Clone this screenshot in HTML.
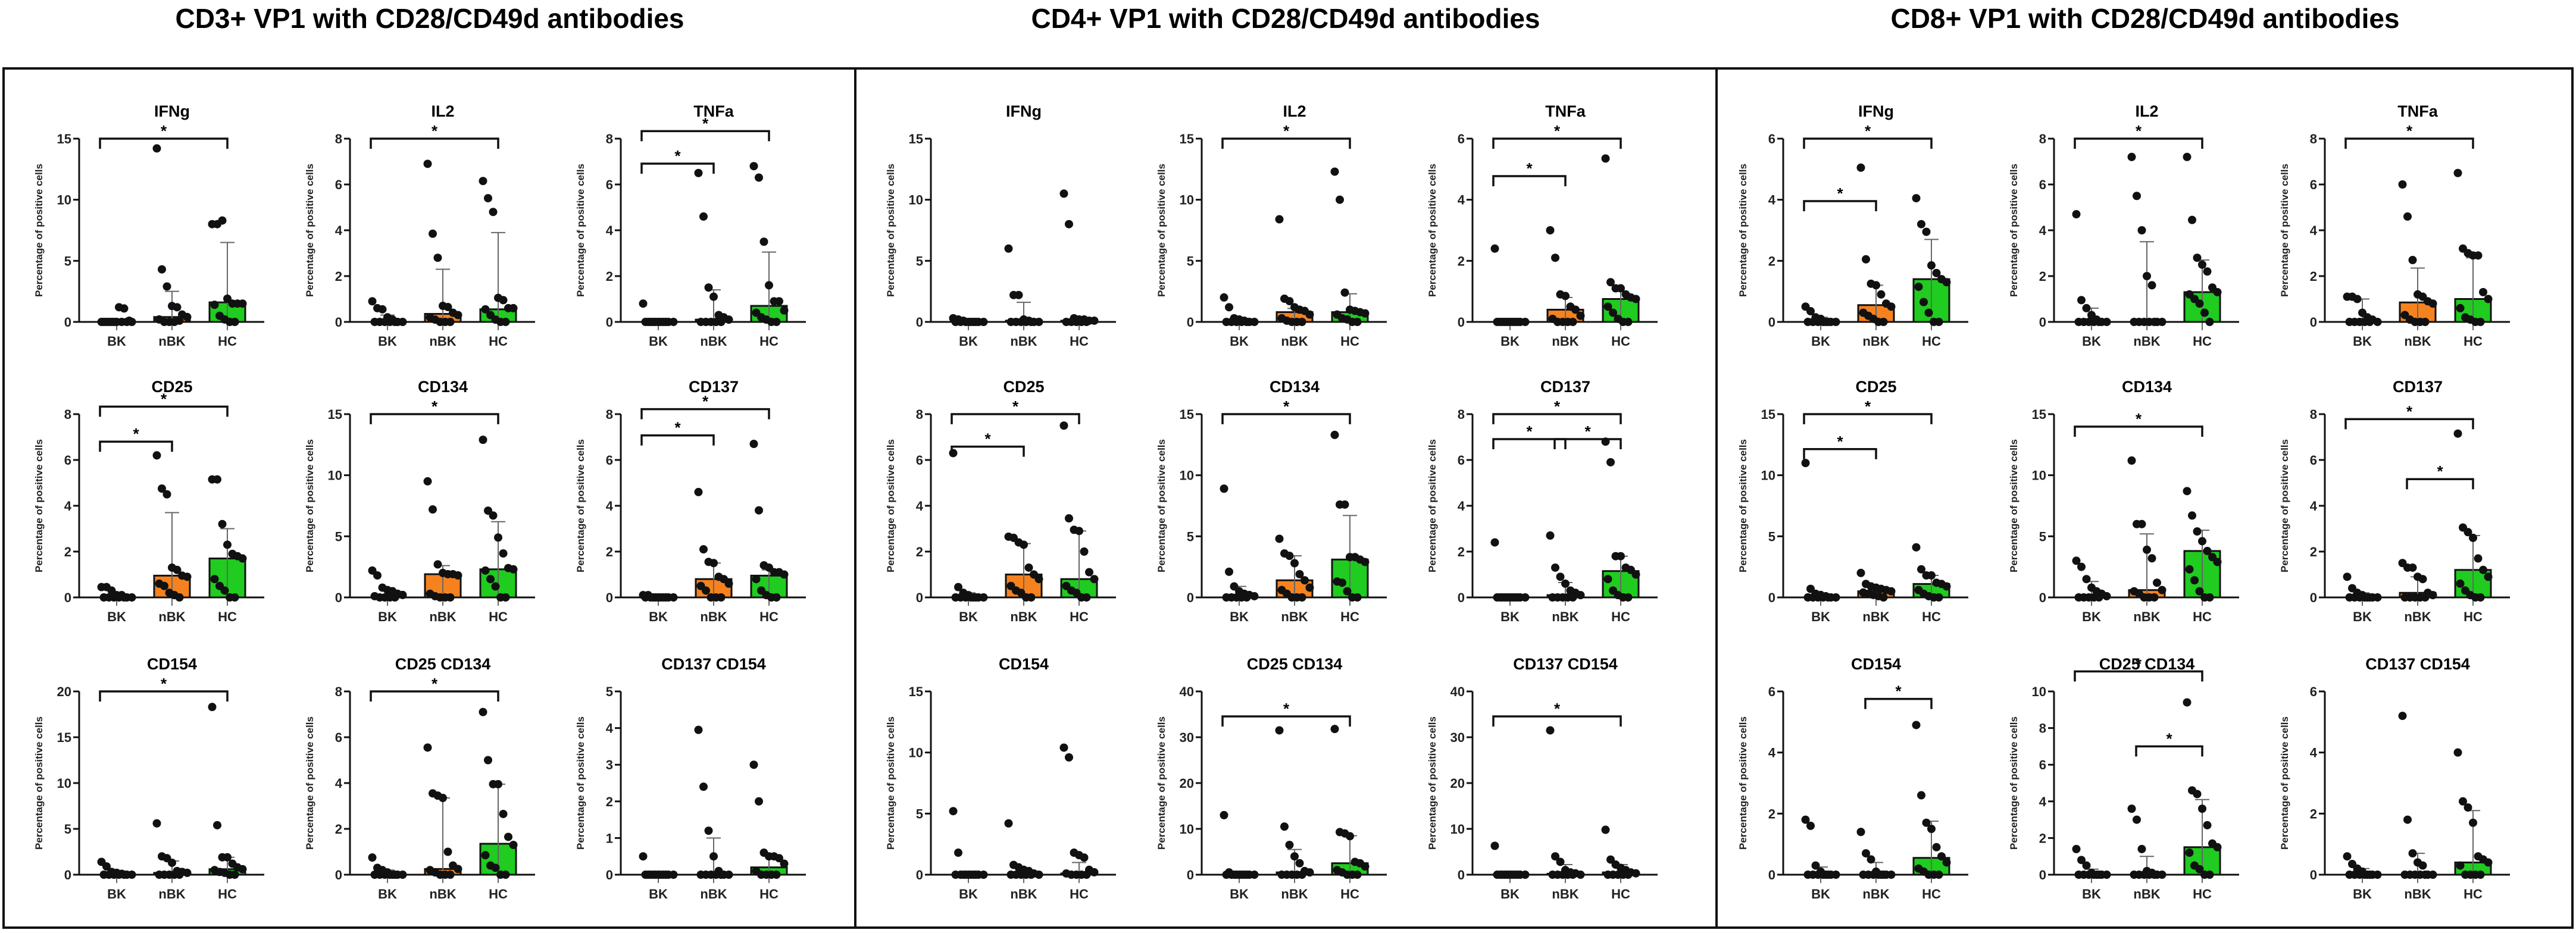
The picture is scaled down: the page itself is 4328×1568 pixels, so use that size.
<!DOCTYPE html>
<html><head><meta charset="utf-8">
<style>
html,body{margin:0;padding:0;background:#fff;}
svg{display:block;font-family:"Liberation Sans",Arial,sans-serif;}
</style></head>
<body>
<svg id="fig" width="4328" height="1568" viewBox="0 0 4328 1568" xmlns="http://www.w3.org/2000/svg">
<rect x="0" y="0" width="4328" height="1568" fill="#fff"/>
<text x="722" y="47" font-size="46" font-weight="bold" text-anchor="middle">CD3+ VP1 with CD28/CD49d antibodies</text>
<text x="2160" y="47" font-size="46" font-weight="bold" text-anchor="middle">CD4+ VP1 with CD28/CD49d antibodies</text>
<text x="3604" y="47" font-size="46" font-weight="bold" text-anchor="middle">CD8+ VP1 with CD28/CD49d antibodies</text>
<rect x="6" y="115" width="4316" height="1444" fill="none" stroke="#111" stroke-width="4"/>
<line x1="1437" y1="115" x2="1437" y2="1559" stroke="#111" stroke-width="4"/>
<line x1="2884" y1="115" x2="2884" y2="1559" stroke="#111" stroke-width="4"/>
<g id="plots"></g>
</svg>
<script>
// ---- data ----
const categories = ["BK","nBK","HC"];
const titles = [
 ["IFNg","IL2","TNFa","CD25","CD134","CD137","CD154","CD25 CD134","CD137 CD154"],
 ["IFNg","IL2","TNFa","CD25","CD134","CD137","CD154","CD25 CD134","CD137 CD154"],
 ["IFNg","IL2","TNFa","CD25","CD134","CD137","CD154","CD25 CD134","CD137 CD154"]
];
const yMax = [
 [15,8,8,8,15,8,20,8,5],
 [15,15,6,8,15,8,15,40,40],
 [6,8,8,15,15,8,6,10,6]
];
const yStep = [
 [5,2,2,2,5,2,5,2,1],
 [5,5,2,2,5,2,5,10,10],
 [2,2,2,5,5,2,2,2,2]
];
// points per subplot: [BK, nBK, HC]
const bkValues = [
 [[0,0,0,0,0,0,0,0,0,0,1.2,1.1,0.1],[0.9,0.6,0.55,0.2,0.1,0,0,0,0,0,0,0],[0.8,0,0,0,0,0,0,0,0,0,0,0],[0.45,0.45,0.3,0.1,0.1,0,0,0,0,0,0,0],[2.2,1.8,0.8,0.6,0.5,0.3,0.2,0.1,0,0,0,0],[0.1,0.1,0,0,0,0,0,0,0,0,0,0],[1.4,0.9,0.3,0.2,0.1,0,0,0,0,0,0,0],[0.75,0.3,0.2,0.1,0,0,0,0,0,0,0,0],[0.5,0,0,0,0,0,0,0,0,0,0,0]],
 [[0.3,0.2,0.1,0,0,0,0,0,0,0,0,0],[2,1.2,0.3,0.2,0.1,0,0,0,0,0,0,0],[2.4,0,0,0,0,0,0,0,0,0,0,0],[6.3,0.45,0.2,0.1,0,0,0,0,0,0,0,0],[8.9,2.1,0.9,0.5,0.3,0.2,0.1,0,0,0,0,0],[2.4,0,0,0,0,0,0,0,0,0,0,0],[5.2,1.8,0,0,0,0,0,0,0,0,0,0],[13,0.5,0,0,0,0,0,0,0,0,0,0],[6.3,0,0,0,0,0,0,0,0,0,0,0]],
 [[0.5,0.35,0.15,0.1,0,0,0,0,0,0,0,0],[4.7,0.95,0.6,0.3,0.1,0,0,0,0,0,0,0],[1.1,1.1,1.0,0.4,0.2,0.1,0,0,0,0,0,0],[11,0.7,0.3,0.2,0.1,0,0,0,0,0,0,0],[3,2.5,1.5,0.8,0.5,0.3,0.1,0,0,0,0,0],[0.9,0.4,0.2,0.1,0,0,0,0,0,0,0,0],[1.8,1.6,0.3,0.1,0,0,0,0,0,0,0,0],[1.4,0.8,0.5,0.1,0,0,0,0,0,0,0,0],[0.6,0.35,0.2,0.1,0,0,0,0,0,0,0,0]]
];
const nbkValues = [
 [[14.2,4.3,2.9,1.3,1.2,0.6,0.4,0.2,0,0,0,0.1],[6.9,3.85,2.8,0.7,0.65,0.4,0.3,0.2,0.1,0,0,0],[6.5,4.6,1.5,1.1,0.3,0.2,0.1,0,0,0,0,0],[6.2,4.75,4.5,1.3,1.2,0.95,0.9,0.6,0.5,0.2,0.1,0],[9.5,7.2,2.7,2,1.9,1.9,1.8,0.3,0.1,0,0,0],[4.6,2.1,1.55,1.5,0.9,0.8,0.6,0.5,0.3,0,0,0],[5.6,2,1.8,1.3,0.4,0.3,0.2,0,0,0,0,0],[5.55,3.55,3.45,3.35,1.0,0.4,0.25,0.2,0.1,0,0,0],[3.95,2.4,1.2,0.5,0.1,0,0,0,0,0,0,0]],
 [[6,2.2,2.2,0.2,0.1,0,0,0,0,0,0,0],[8.4,1.9,1.7,1.2,1,0.9,0.6,0.3,0.1,0,0,0],[3,2.1,0.9,0.85,0.5,0.4,0.2,0.1,0,0,0,0],[2.65,2.6,2.4,2.3,1.3,1.0,0.8,0.5,0.3,0.2,0,0],[4.8,3.6,3.4,2.8,1.9,1.4,0.8,0.6,0.3,0,0,0],[2.7,1.3,0.9,0.6,0.3,0.2,0.1,0,0,0,0,0],[4.2,0.8,0.6,0.4,0.3,0.1,0,0,0,0,0,0],[31.5,10.5,6.5,4,2.5,0.8,0.5,0,0,0,0,0],[31.5,4,2.8,1,0.5,0.3,0,0,0,0,0,0]],
 [[5.05,2.05,1.25,1.2,0.9,0.6,0.5,0.3,0.2,0.1,0,0],[7.2,5.5,4.0,2.0,1.6,0,0,0,0,0,0,0],[6,4.6,2.7,1.2,1.1,0.9,0.8,0.3,0.1,0,0,0],[2,1.1,0.9,0.8,0.7,0.6,0.5,0.4,0.3,0.2,0.1,0],[11.2,6,6,3.9,3.2,1.2,0.6,0.5,0.3,0,0,0],[1.5,1.3,1.3,0.9,0.8,0.2,0.1,0,0,0,0,0],[1.4,0.7,0.5,0.1,0,0,0,0,0,0,0,0],[3.6,3.0,1.4,0.2,0.1,0,0,0,0,0,0,0],[5.2,1.8,0.7,0.4,0.3,0,0,0,0,0,0,0]]
];
const hcValues = [
 [[8,8,8.3,1.9,1.5,1.5,1.5,1.4,0.5,0.2,0,0],[6.15,5.4,4.8,1.05,0.95,0.6,0.6,0.55,0.3,0.1,0,0],[6.8,6.3,3.5,1.6,0.9,0.9,0.5,0.4,0.2,0.1,0,0],[5.15,5.15,3.2,2.3,1.9,1.8,1.7,0.8,0.5,0.3,0,0],[12.9,7.1,6.7,4.9,3.6,2.4,2.3,2.2,1.5,0.9,0,0],[6.7,3.8,1.4,1.3,1.1,1.1,1.0,0.8,0.3,0.1,0,0],[18.3,5.4,1.9,1.9,1.2,0.8,0.6,0.5,0.3,0.2,0,0],[7.1,5,3.95,3.95,2.65,1.65,1.3,0.85,0.4,0.3,0,0],[3,2,0.6,0.5,0.5,0.45,0.3,0.1,0,0,0,0]],
 [[10.5,8,0.3,0.2,0.2,0.1,0.1,0,0,0,0,0],[12.3,10,2.4,1,0.9,0.8,0.7,0.6,0.3,0.2,0,0],[5.35,1.3,1.1,1.1,0.9,0.8,0.75,0.5,0.3,0.1,0,0],[7.5,3.45,2.95,2.9,2.0,1.1,0.8,0.5,0.3,0.2,0,0],[13.3,7.6,7.6,3.3,3.3,3.1,2.9,1.3,1.2,0.5,0,0],[6.8,5.9,1.8,1.8,1.3,1.2,1.0,0.8,0.3,0.1,0,0],[10.4,9.6,1.8,1.6,1.4,0.4,0.2,0.1,0,0,0,0],[31.8,9.3,9,8.4,2.8,2.5,1.8,1,0.5,0,0,0],[9.8,3.3,2.2,1.5,1,0.5,0.3,0,0,0,0,0]],
 [[4.05,3.2,2.95,1.85,1.6,1.4,1.3,1.15,0.65,0.3,0,0],[7.2,4.45,2.8,2.5,2.2,1.5,1.3,1.2,1.0,0.8,0.4,0],[6.5,3.2,3.0,2.9,2.9,1.3,1.0,0.6,0.2,0.1,0,0],[4.1,2.3,1.8,1.8,1.2,1.1,0.9,0.6,0.3,0.1,0,0],[8.7,6.7,5.4,4.6,3.8,3.3,2.9,2.3,1.4,0.5,0,0],[7.15,3.05,2.85,2.6,1.7,1.2,0.9,0.6,0.3,0.1,0,0],[4.9,2.6,1.7,1.5,0.9,0.6,0.4,0.2,0.1,0,0,0],[9.4,4.6,4.4,3.6,2.7,1.7,1.5,1.2,0.5,0.3,0,0],[4,2.4,2.2,1.7,0.6,0.5,0.4,0.3,0,0,0,0]]
];
// median bar heights [BK,nBK,HC]
const medians = [
 [[0,0.4,1.6],[0.05,0.35,0.55],[0,0.1,0.7],[0.05,0.95,1.7],[0.3,1.9,2.3],[0,0.8,0.95],[0.1,0.2,0.6],[0.05,0.25,1.35],[0,0,0.2]],
 [[0.1,0.1,0.1],[0.1,0.8,0.8],[0,0.4,0.75],[0.05,1.0,0.8],[0.4,1.4,3.1],[0,0.1,1.15],[0,0,0.1],[0.1,0.5,2.5],[0,0.2,0.5]],
 [[0.05,0.55,1.4],[0.05,0,1.3],[0.1,0.85,1.0],[0.1,0.5,1.1],[0.3,0.6,3.8],[0.05,0.2,1.2],[0,0,0.55],[0,0,1.5],[0,0,0.4]]
];
// upper error (interquartile top) [BK,nBK,HC]
const upperErr = [
 [[0.1,2.5,6.5],[0.3,2.3,3.9],[0,1.4,3.05],[0.1,3.7,3.0],[0.8,2.6,6.2],[0.05,1.5,1.2],[0.3,1.5,1.9],[0.2,3.35,3.95],[0,1.0,0.55]],
 [[0.2,1.6,0.3],[0.3,1.1,2.3],[0,0.8,1.0],[0.2,2.35,2.9],[0.9,3.4,6.7],[0,0.65,1.8],[0.2,0.5,1.0],[0.5,5.5,8.5],[0.3,2.2,2.2]],
 [[0.15,1.2,2.7],[0.6,3.5,2.7],[1.0,2.35,2.8],[0.3,0.9,1.8],[1.3,5.2,5.5],[0.2,0.9,2.7],[0.25,0.4,1.75],[0.3,1.0,4.1],[0.2,0.7,2.1]]
];
// significance brackets: [fromGroup, toGroup, level]
const brackets = [
 [[[0,2,0]],[[0,2,0]],[[0,2,-0.3],[0,1,1]],[[0,2,-0.3],[0,1,1.1]],[[0,2,0]],[[0,2,-0.2],[0,1,0.85]],[[0,2,0]],[[0,2,0]],[]],
 [[],[[0,2,0]],[[0,2,0],[0,1,1.5]],[[0,2,0],[0,1,1.3]],[[0,2,0]],[[0,2,0],[0,1,1],[1,2,1]],[],[[0,2,1]],[[0,2,1]]],
 [[[0,2,0],[0,1,2.5]],[[0,2,0]],[[0,2,0]],[[0,2,0],[0,1,1.4]],[[0,2,0.5]],[[0,2,0.2],[1,2,2.6]],[[1,2,0.3]],[[0,2,-0.8],[1,2,2.2]],[]]
];
</script>
<script>
const NS = "http://www.w3.org/2000/svg";
const root = document.getElementById('plots');
const panelX = [6, 1437, 2869];
const rowZero = [541, 1004, 1470];
const plotH = 308;
const colors = ["#ffffff", "#f5821f", "#1fcc1f"];
function mk(tag, attrs, parent) {
  const e = document.createElementNS(NS, tag);
  for (const k in attrs) e.setAttribute(k, attrs[k]);
  parent.appendChild(e);
  return e;
}
for (let p = 0; p < 3; p++) {
  for (let s = 0; s < 9; s++) {
    const r = Math.floor(s / 3), c = s % 3;
    const axisX = panelX[p] + 127 + c * 455;
    const zeroY = rowZero[r];
    const topY = zeroY - plotH;
    const ymax = yMax[p][s];
    const yScale = v => zeroY - (v / ymax) * plotH;
    const xScale = i => axisX + 63 + i * 93;
    const g = mk('g', {}, root);
    
    
    const t = mk('text', {x: xScale(1), y: topY - 37, 'font-size': 27, 'font-weight': 'bold', 'text-anchor': 'middle'}, g);
    t.textContent = titles[p][s];
    
    
    // y axis
    const ya = mk('line', {x1: axisX, y1: topY, x2: axisX, y2: zeroY, stroke: '#111', 'stroke-width': 3}, g);
    
    
    for (let v = 0; v <= ymax + 1e-9; v += yStep[p][s]) {
      const y = yScale(v);
      const tk = mk('line', {x1: axisX - 10, y1: y, x2: axisX, y2: y, stroke: '#111', 'stroke-width': 3}, g);
      
      
      const tl = mk('text', {x: axisX - 13, y: y + 8, 'font-size': 22, 'font-weight': 'bold', 'text-anchor': 'end', fill: '#222'}, g);
      tl.textContent = String(v);
      
      
    }
    const yt = mk('text', {x: 0, y: 0, 'font-size': 17, 'font-weight': 'bold', 'text-anchor': 'middle', fill: '#222', transform: 'translate(' + (axisX - 62) + ',' + (zeroY - plotH / 2) + ') rotate(-90)'}, g);
    yt.textContent = 'Percentage of positive cells';
    
    
    const groups = [bkValues[p][s], nbkValues[p][s], hcValues[p][s]];
    // bars
    for (let i = 0; i < 3; i++) {
      const m = medians[p][s][i];
      const by = yScale(m);
      if (i > 0 && m > 0) {
        const b = mk('rect', {x: xScale(i) - 30, y: by, width: 60, height: zeroY - by, fill: colors[i], stroke: '#111', 'stroke-width': 3}, g);
        
        
      }
      const ue = yScale(upperErr[p][s][i]);
      const el = mk('line', {x1: xScale(i), y1: ue, x2: xScale(i), y2: zeroY + 14, stroke: '#666', 'stroke-width': 2}, g);
      
      
      const ec = mk('line', {x1: xScale(i) - 12, y1: ue, x2: xScale(i) + 12, y2: ue, stroke: '#666', 'stroke-width': 2}, g);
      
      
    }
    // x axis
    const xa = mk('line', {x1: axisX, y1: zeroY, x2: xScale(2) + 62, y2: zeroY, stroke: '#111', 'stroke-width': 3}, g);
    
    
    // points
    for (let i = 0; i < 3; i++) {
      const vals = groups[i];
      vals.forEach((v, k) => {
        const off = ((k % 7) - 3) * 8.5 + (k >= 7 ? 4 : 0);
        const d = mk('circle', {cx: xScale(i) + off, cy: yScale(v), r: 7, fill: '#111'}, g);
        
        
      });
      const cl = mk('text', {x: xScale(i), y: zeroY + 40, 'font-size': 22, 'font-weight': 'bold', 'text-anchor': 'middle', fill: '#222'}, g);
      cl.textContent = categories[i];
      
      
    }
    // brackets
    brackets[p][s].forEach(bk => {
      const x1 = xScale(bk[0]) - 28 + (bk[0] > 0 ? 10 : 0), x2 = xScale(bk[1]) + (bk[0] === 1 ? 0 : 0);
      const y = topY + bk[2] * 42;
      const pl = mk('path', {d: 'M' + x1 + ' ' + (y + 17) + ' V' + y + ' H' + x2 + ' V' + (y + 17), fill: 'none', stroke: '#111', 'stroke-width': 3.5}, g);
      
      
      const st = mk('text', {x: (x1 + x2) / 2, y: y - 4, 'font-size': 26, 'font-weight': 'bold', 'text-anchor': 'middle'}, g);
      st.textContent = '*';
      
      
    });
  }
}
</script>
</body></html>
